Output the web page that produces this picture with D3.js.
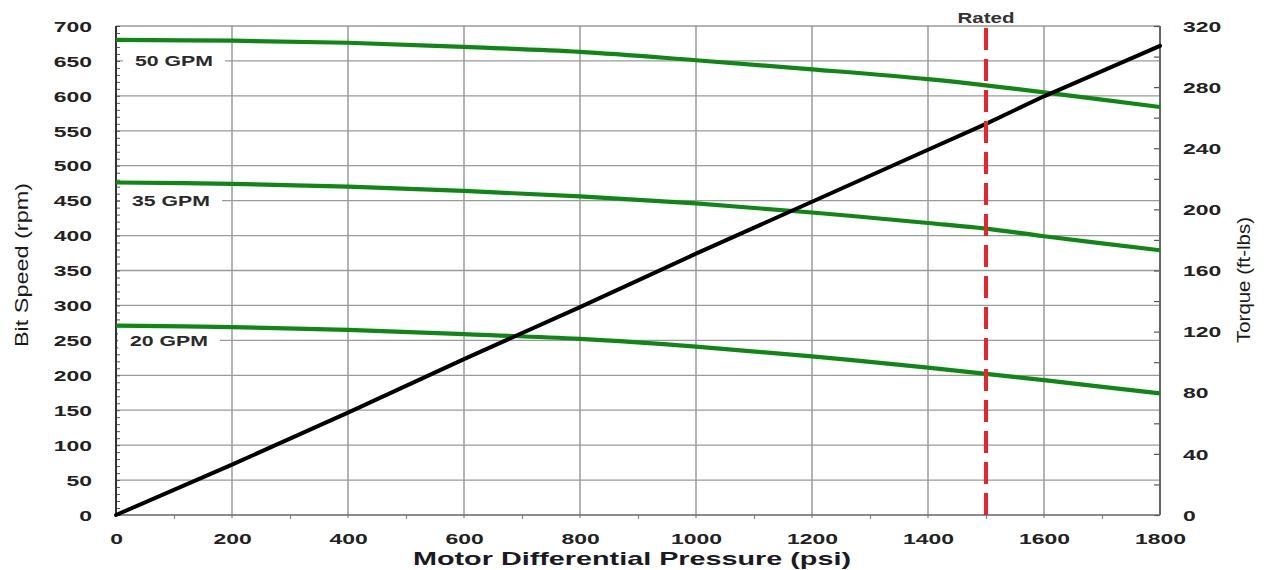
<!DOCTYPE html>
<html>
<head>
<meta charset="utf-8">
<script src="https://cdn.jsdelivr.net/npm/d3@7"></script>
<style>
html,body{margin:0;padding:0;background:#fff;}
svg{display:block;}
text{font-family:"Liberation Sans",Arial,sans-serif;}
</style>
</head>
<body>
<svg id="chart" width="1274" height="570"></svg>
<script>
// ---- data ----
const pressure = [0, 200, 400, 600, 800, 1000, 1200, 1400, 1500, 1600, 1800];
const gpm50 = [680, 679, 676, 670, 663, 651, 638, 624, 615, 605, 584];
const gpm35 = [476, 474, 470, 464, 456, 446, 433, 418, 410, 399, 379];
const gpm20 = [271, 269, 265, 259, 252, 241, 227, 211, 202, 193, 174];
const torque = [0, 33, 67, 102, 136, 171, 205, 239, 256, 274, 307];
const seriesNames = ["50 GPM", "35 GPM", "20 GPM"];
const ratedPressure = 1500;
const ratedLabel = "Rated";
const xTicks = [0, 200, 400, 600, 800, 1000, 1200, 1400, 1600, 1800];
const yTicks = [0, 50, 100, 150, 200, 250, 300, 350, 400, 450, 500, 550, 600, 650, 700];
const y2Ticks = [0, 40, 80, 120, 160, 200, 240, 280, 320];
const xTitle = "Motor Differential Pressure (psi)";
const yTitle = "Bit Speed (rpm)";
const y2Title = "Torque (ft-lbs)";

// ---- layout ----
const L = 116, R = 1160, T = 26, B = 515;
const svg = d3.select("#chart");
const x = d3.scaleLinear().domain([0, 1800]).range([L, R]);
const y = d3.scaleLinear().domain([0, 700]).range([B, T]);
const y2 = d3.scaleLinear().domain([0, 320]).range([B, T]);
const fmt = d3.format("d");

const GRID = "#9a9a9a", AXIS = "#555", TXT = "#222";
const GREEN = "#0f8714", RED = "#e8232b";

function stretch(sel, factor) {
  sel.each(function () {
    const w = this.getComputedTextLength();
    d3.select(this).attr("textLength", w * factor).attr("lengthAdjust", "spacingAndGlyphs");
  });
}
function fitTo(sel, len) {
  sel.attr("textLength", len).attr("lengthAdjust", "spacingAndGlyphs");
}

// gridlines
const grid = svg.append("g");
grid.selectAll("line.h").data(yTicks.filter(d => d > 0 && d < 700)).join("line")
  .attr("x1", L).attr("x2", R).attr("y1", d => y(d)).attr("y2", d => y(d))
  .attr("stroke", GRID).attr("stroke-width", 1.3);
grid.selectAll("line.v").data(xTicks.filter(d => d > 0 && d < 1800)).join("line")
  .attr("x1", d => x(d)).attr("x2", d => x(d)).attr("y1", T).attr("y2", B + 3)
  .attr("stroke", GRID).attr("stroke-width", 1.5);
// top border
svg.append("line").attr("x1", L).attr("x2", R).attr("y1", T).attr("y2", T)
  .attr("stroke", GRID).attr("stroke-width", 1.5);

// minor ticks
const minorLeft = svg.append("g").attr("transform", `translate(${L},0)`)
  .call(d3.axisRight(y).tickValues(d3.range(0, 701, 10)).tickSize(4).tickFormat(""));
minorLeft.select(".domain").remove();
minorLeft.selectAll("line").attr("stroke", AXIS).attr("stroke-width", 1);

const minorBottom = svg.append("g").attr("transform", `translate(0,${B})`)
  .call(d3.axisBottom(x).tickValues(d3.range(100, 1800, 200)).tickSize(4).tickFormat(""));
minorBottom.select(".domain").remove();
minorBottom.selectAll("line").attr("stroke", "#888").attr("stroke-width", 1.2);

const minorRight = svg.append("g").attr("transform", `translate(${R},0)`)
  .call(d3.axisLeft(y2).tickValues(d3.range(0, 321, 20)).tickSize(6).tickFormat(""));
minorRight.select(".domain").remove();
minorRight.selectAll("line").attr("stroke", AXIS).attr("stroke-width", 1.2);

// axis lines
svg.append("line").attr("x1", L).attr("x2", L).attr("y1", T).attr("y2", B)
  .attr("stroke", "#333").attr("stroke-width", 2);
svg.append("line").attr("x1", R).attr("x2", R).attr("y1", T).attr("y2", B)
  .attr("stroke", "#666").attr("stroke-width", 2);
svg.append("line").attr("x1", L).attr("x2", R).attr("y1", B).attr("y2", B)
  .attr("stroke", "#666").attr("stroke-width", 1.6);

// tick labels
const axL = svg.append("g").attr("transform", `translate(${L},0)`)
  .call(d3.axisLeft(y).tickValues(yTicks).tickFormat(fmt).tickSize(0).tickPadding(24));
axL.select(".domain").remove();
axL.selectAll("text").attr("font-size", 14.5).attr("font-weight", "bold").attr("fill", TXT)
  .attr("font-family", "Liberation Sans, Arial, sans-serif").attr("dy", "0.36em");
stretch(axL.selectAll("text"), 1.58);

const axR = svg.append("g").attr("transform", `translate(${R},0)`)
  .call(d3.axisRight(y2).tickValues(y2Ticks).tickFormat(fmt).tickSize(0).tickPadding(23));
axR.select(".domain").remove();
axR.selectAll("text").attr("font-size", 14.5).attr("font-weight", "bold").attr("fill", TXT)
  .attr("font-family", "Liberation Sans, Arial, sans-serif").attr("dy", "0.36em");
stretch(axR.selectAll("text"), 1.58);

const axB = svg.append("g").attr("transform", `translate(0,${B})`)
  .call(d3.axisBottom(x).tickValues(xTicks).tickFormat(fmt).tickSize(0));
axB.select(".domain").remove();
axB.selectAll("text").attr("font-size", 14.5).attr("font-weight", "bold").attr("fill", TXT)
  .attr("font-family", "Liberation Sans, Arial, sans-serif").attr("y", 29).attr("dy", 0);
stretch(axB.selectAll("text"), 1.58);

// titles
fitTo(svg.append("text").attr("x", 413).attr("y", 565).attr("font-size", 19)
  .attr("font-weight", "bold").attr("fill", "#1a1a22").text(xTitle), 438);
fitTo(svg.append("text").attr("transform", "translate(28,265) rotate(-90)")
  .attr("text-anchor", "middle").attr("font-size", 19).attr("fill", "#1a1a1a").text(yTitle), 164);
fitTo(svg.append("text").attr("transform", "translate(1250,280) rotate(-90)")
  .attr("text-anchor", "middle").attr("font-size", 19).attr("fill", "#1a1a1a").text(y2Title), 126);

// series labels with white backing
const labelRows = [
  {name: seriesNames[0], v: 650, x0: 135},
  {name: seriesNames[1], v: 450, x0: 132},
  {name: seriesNames[2], v: 250, x0: 130}
];
labelRows.forEach(r => {
  svg.append("rect").attr("x", r.x0 - 12).attr("y", y(r.v) - 8).attr("width", 102).attr("height", 16)
    .attr("fill", "#fff");
  fitTo(svg.append("text").attr("x", r.x0).attr("y", y(r.v) + 5.5).attr("font-size", 15)
    .attr("font-weight", "bold").attr("fill", "#2a2a2a").text(r.name), 78);
});

// curves
const line = d3.line().x((d, i) => x(pressure[i])).y(d => y(d)).curve(d3.curveCatmullRom.alpha(0.5));
[gpm50, gpm35, gpm20].forEach(s => {
  svg.append("path").attr("d", line(s)).attr("fill", "none")
    .attr("stroke", GREEN).attr("stroke-width", 4.2);
});
const tline = d3.line().x((d, i) => x(pressure[i])).y(d => y2(d));
svg.append("path").attr("d", tline(torque)).attr("fill", "none")
  .attr("stroke", "#000").attr("stroke-width", 4).attr("stroke-linecap", "round");

// rated line
svg.append("line").attr("x1", x(ratedPressure)).attr("x2", x(ratedPressure))
  .attr("y1", T + 2).attr("y2", B).attr("stroke", RED).attr("stroke-width", 4)
  .attr("stroke-dasharray", "22,9");
fitTo(svg.append("text").attr("x", x(ratedPressure)).attr("y", 23).attr("text-anchor", "middle")
  .attr("font-size", 14).attr("font-weight", "bold").attr("fill", "#333").text(ratedLabel), 57);
</script>
</body>
</html>
